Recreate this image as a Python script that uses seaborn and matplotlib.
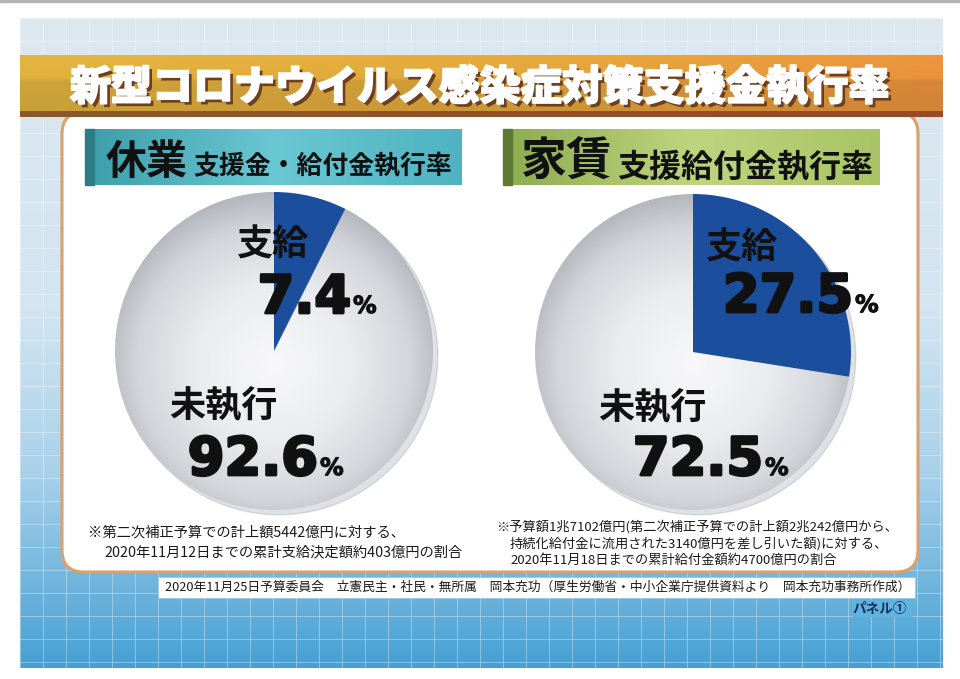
import numpy as np
import matplotlib
matplotlib.use("Agg")
import matplotlib.pyplot as plt
import seaborn as sns
from matplotlib.patches import FancyBboxPatch, Rectangle
from matplotlib.colors import LinearSegmentedColormap, to_rgb
import matplotlib.patheffects as pe

sns.set_theme(style="white")
plt.rcParams["font.family"] = ["Noto Sans CJK JP", "DejaVu Sans"]

# ---------------- data ----------------
title = "新型コロナウイルス感染症対策支援金執行率"
panel_big = ["休業", "家賃"]
panel_small = ["支援金・給付金執行率", "支援給付金執行率"]
categories = ["支給", "未執行"]
kyugyo_values = [7.4, 92.6]
yachin_values = [27.5, 72.5]
notes_left = ["※第二次補正予算での計上額5442億円に対する、",
              "2020年11月12日までの累計支給決定額約403億円の割合"]
notes_right = ["※予算額1兆7102億円(第二次補正予算での計上額2兆242億円から、",
               "持続化給付金に流用された3140億円を差し引いた額)に対する、",
               "2020年11月18日までの累計給付金額約4700億円の割合"]
source = "2020年11月25日予算委員会　立憲民主・社民・無所属　岡本充功（厚生労働省・中小企業庁提供資料より　岡本充功事務所作成）"
panel_label = "パネル①"

W, H = 960, 679
fig = plt.figure(figsize=(W / 100, H / 100), dpi=100)
fig.patch.set_facecolor("white")

bg = fig.add_axes([0, 0, 1, 1], zorder=0)
bg.set_xlim(0, W); bg.set_ylim(H, 0); bg.axis("off")


def grad_img(stops, n=256, axis=0):
    pos = np.array([s[0] for s in stops])
    cols = np.array([to_rgb(s[1]) for s in stops])
    t = np.linspace(0, 1, n)
    arr = np.stack([np.interp(t, pos, cols[:, i]) for i in range(3)], axis=-1)
    if axis == 0:
        return arr[:, None, :]
    return arr[None, :, :]


def put_img(ax, img, x0, x1, y0, y1, z):
    ax.imshow(img, extent=(x0, x1, y1, y0), origin="upper", aspect="auto",
              zorder=z, interpolation="bilinear")


# scan border line
bg.add_patch(Rectangle((0, 0), W, 2, color="#b4b4b4", zorder=1))

# background blue gradient
put_img(bg, grad_img([(0, "#dde8f0"), (0.45, "#d2e5f1"), (0.7, "#a9d1ea"),
                      (1.0, "#45a0d3")]), 20, 943, 18, 668, 1)
for gx in np.arange(20, 944, 23):
    bg.plot([gx, gx], [18, 668], color="white", alpha=0.35, lw=0.7, zorder=2)
for gy in np.arange(18, 669, 23):
    bg.plot([20, 943], [gy, gy], color="white", alpha=0.35, lw=0.7, zorder=2)

# white panel
bg.add_patch(FancyBboxPatch((62, 112), 856, 460,
                            boxstyle="round,pad=0,rounding_size=22",
                            fc="white", ec="#dca06a", lw=2.2, zorder=3))

# title band
band = grad_img([(0, "#d9ad3d"), (0.55, "#dca23a"), (1.0, "#e28e3a")], axis=1)
vshade = np.interp(np.linspace(0, 1, 60), [0, 0.4, 0.45, 0.85, 1.0],
                   [1.05, 1.03, 0.95, 0.93, 0.93])
band = np.clip(band * vshade[:, None, None], 0, 1)
put_img(bg, band, 20, 943, 55, 112, 4)
put_img(bg, grad_img([(0, "#8a5a2c"), (1, "#9a4a26")], axis=1), 20, 943, 111, 117, 4)
bg.text(480, 88, title, ha="center", va="center", fontsize=29.5,
        fontweight="black", color="white", zorder=5,
        path_effects=[pe.withSimplePatchShadow(offset=(2.5, -2.5),
                                               shadow_rgbFace="#6e3f1f", alpha=1),
                      pe.Stroke(linewidth=1.2, foreground="white"), pe.Normal()])

# subtitle boxes
put_img(bg, grad_img([(0, "#3d9eaa"), (0.5, "#69c7d2"), (1, "#4fb3c1")], axis=1),
        85, 462, 129, 185, 4)
bg.add_patch(Rectangle((85, 129), 9, 56, color="#2c7c85", zorder=4))
put_img(bg, grad_img([(0, "#8cab4e"), (0.5, "#bed57e"), (1, "#a9c466")], axis=1),
        503, 880, 129, 185, 4)
bg.add_patch(Rectangle((503, 129), 9, 56, color="#5d7a34", zorder=4))

bg.text(106, 174, panel_big[0], ha="left", va="baseline", fontsize=29.5,
        fontweight="bold", color="#111111", zorder=6)
bg.text(193, 174, panel_small[0], ha="left", va="baseline", fontsize=18.6,
        fontweight="bold", color="#111111", zorder=6)
bg.text(521, 176, panel_big[1], ha="left", va="baseline", fontsize=33,
        fontweight="bold", color="#111111", zorder=6)
bg.text(617, 176, panel_small[1], ha="left", va="baseline", fontsize=23,
        fontweight="bold", color="#111111", zorder=6)

# ---------------- pies ----------------
pie_cmap = LinearSegmentedColormap.from_list(
    "sph", [(0, "#f8f8fa"), (0.45, "#ebecef"), (0.8, "#d3d5da"), (1.0, "#b3b6bd")])
gx_, gy_ = np.meshgrid(np.linspace(-1, 1, 300), np.linspace(-1, 1, 300))
rr = np.sqrt(gx_ ** 2 + (gy_ + 0.08) ** 2) / 1.08


def draw_pie(cx, cy, r, values):
    ax = fig.add_axes([(cx - r) / W, 1 - (cy + r) / H, 2 * r / W, 2 * r / H], zorder=2)
    # faint shadow
    ax.add_patch(plt.Circle((0.03, -0.03), 1.0, color="#7f8a99", alpha=0.25, zorder=0))
    wedges, _ = ax.pie(values, startangle=90, counterclock=False,
                       colors=["#1b4f9e", "none"], radius=1.0,
                       wedgeprops=dict(linewidth=0))
    wedges[0].set_zorder(3)
    im = ax.imshow(rr, cmap=pie_cmap, vmin=0, vmax=1, extent=(-1, 1, -1, 1),
                   origin="lower", zorder=2)
    im.set_clip_path(wedges[1])
    ax.set_xlim(-1.05, 1.05); ax.set_ylim(-1.05, 1.05)
    ax.set_aspect("equal")
    ax.axis("off")
    return ax


draw_pie(274, 351, 159 * 1.05, kyugyo_values)
draw_pie(693, 352, 158 * 1.05, yachin_values)

# ---------------- overlay texts ----------------
ov = fig.add_axes([0, 0, 1, 1], zorder=5)
ov.set_xlim(0, W); ov.set_ylim(H, 0); ov.axis("off"); ov.patch.set_alpha(0)

num_fx = [pe.Stroke(linewidth=2.0, foreground="#111111"), pe.Normal()]


def pct(x_end, base, value):
    ov.text(x_end, base, f"{value:.1f}", ha="right", va="baseline",
            fontsize=38, fontweight="bold", family="DejaVu Sans",
            color="#111111", path_effects=num_fx)
    ov.text(x_end + 2, base, "%", ha="left", va="baseline", fontsize=17,
            fontweight="bold", family="DejaVu Sans", color="#111111",
            path_effects=[pe.Stroke(linewidth=0.8, foreground="#111111"), pe.Normal()])


ov.text(273, 245, categories[0], ha="center", va="center", fontsize=26,
        fontweight="bold", color="#111111")
pct(351, 313, kyugyo_values[0])
ov.text(223, 406, categories[1], ha="center", va="center", fontsize=26,
        fontweight="bold", color="#111111")
pct(318, 475, kyugyo_values[1])

ov.text(742, 248, categories[0], ha="center", va="center", fontsize=26,
        fontweight="bold", color="#111111")
pct(853, 312, yachin_values[0])
ov.text(652, 408, categories[1], ha="center", va="center", fontsize=26,
        fontweight="bold", color="#111111")
pct(763, 475, yachin_values[1])

# footnotes
ov.text(88, 532, notes_left[0], ha="left", va="center", fontsize=10.3, color="#1a1a1a")
ov.text(104, 552, notes_left[1], ha="left", va="center", fontsize=10.3, color="#1a1a1a")
ov.text(496, 527, notes_right[0], ha="left", va="center", fontsize=9.5, color="#1a1a1a")
ov.text(510, 543.5, notes_right[1], ha="left", va="center", fontsize=9.5, color="#1a1a1a")
ov.text(510, 560, notes_right[2], ha="left", va="center", fontsize=9.5, color="#1a1a1a")

# source bar
ov.add_patch(Rectangle((158, 577), 757, 21, fc="white", ec="#9cc6e0", lw=0.6))
ov.text(165, 587.5, source, ha="left", va="center", fontsize=9.2, color="#1a1a1a")
ov.add_patch(Rectangle((852, 600), 60, 17, fc="#5fb3de", ec="none"))
ov.text(907, 608.5, panel_label, ha="right", va="center", fontsize=9.8,
        fontweight="bold", color="#16305e")

fig.savefig("out.png", dpi=100)
